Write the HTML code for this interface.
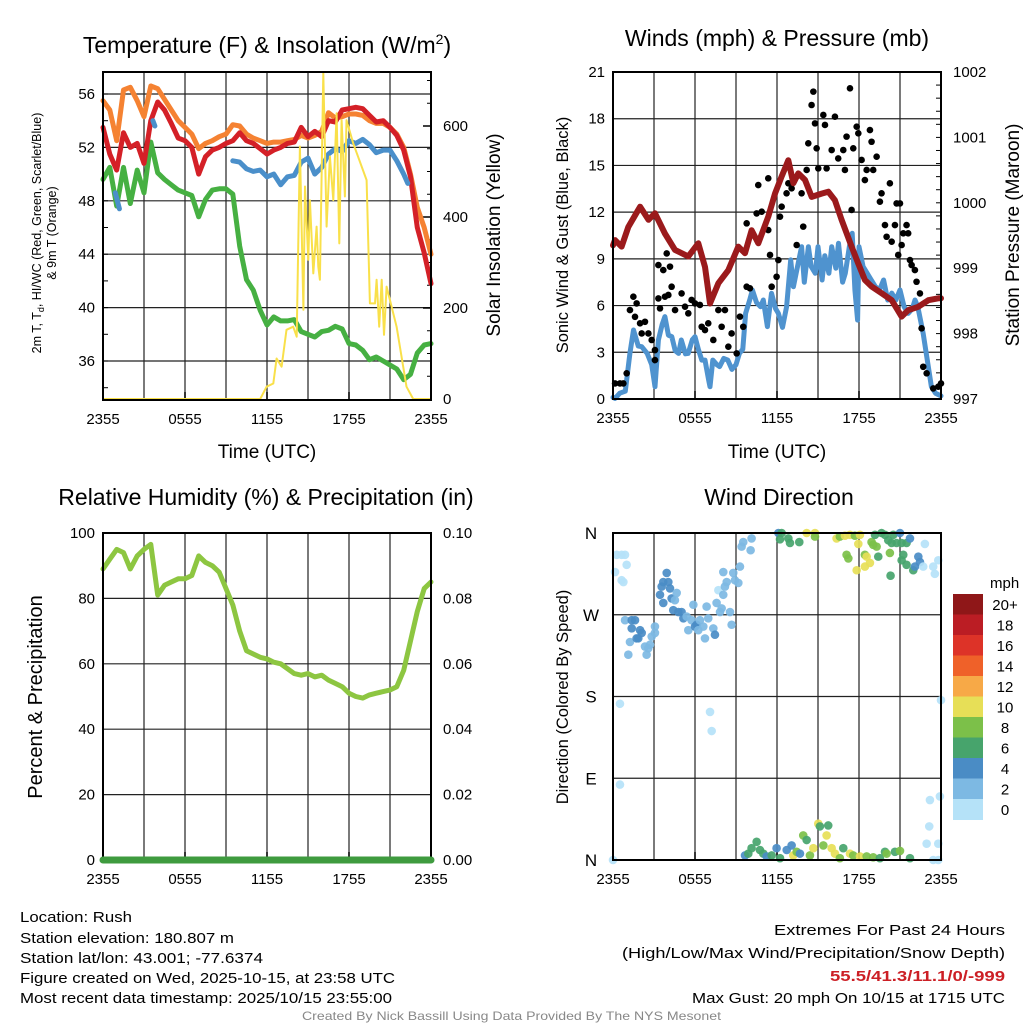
<!DOCTYPE html>
<html><head><meta charset="utf-8">
<style>
html,body{margin:0;padding:0;background:#fff;}
svg{display:block;font-family:"Liberation Sans",Arial,sans-serif;}
</style></head>
<body>
<svg id="chart" width="1024" height="1024" viewBox="0 0 1024 1024" xmlns="http://www.w3.org/2000/svg">
<rect x="0" y="0" width="1024" height="1024" fill="#fff"/>
<g id="p1"></g>
<g id="p2"></g>
<g id="p3"></g>
<g id="p4"></g>
<g id="txt">
<text x="267" y="53" font-size="23" text-anchor="middle">Temperature (F) &amp; Insolation (W/m<tspan font-size="14" dy="-9">2</tspan><tspan dy="9">)</tspan></text>
<text x="777" y="46" font-size="23" text-anchor="middle">Winds (mph) &amp; Pressure (mb)</text>
<text x="266" y="505" font-size="23" text-anchor="middle">Relative Humidity (%) &amp; Precipitation (in)</text>
<text x="779" y="505" font-size="23" text-anchor="middle">Wind Direction</text>
<text x="267" y="458" font-size="19" text-anchor="middle">Time (UTC)</text>
<text x="777" y="458" font-size="19" text-anchor="middle">Time (UTC)</text>
<text transform="translate(41,233) rotate(-90)" font-size="12.5" text-anchor="middle">2m T, T<tspan font-size="9" dy="3">d</tspan><tspan dy="-3">, HI/WC (Red, Green, Scarlet/Blue)</tspan></text>
<text transform="translate(56,233) rotate(-90)" font-size="12.5" text-anchor="middle">&amp; 9m T (Orange)</text>
<text transform="translate(500,235) rotate(-90)" font-size="19" text-anchor="middle">Solar Insolation (Yellow)</text>
<text transform="translate(568,235) rotate(-90)" font-size="16.5" text-anchor="middle">Sonic Wind &amp; Gust (Blue, Black)</text>
<text transform="translate(1019,235) rotate(-90)" font-size="19" text-anchor="middle">Station Pressure (Maroon)</text>
<text transform="translate(42,697) rotate(-90)" font-size="20" text-anchor="middle">Percent &amp; Precipitation</text>
<text transform="translate(568,697) rotate(-90)" font-size="16.5" text-anchor="middle">Direction (Colored By Speed)</text>
<text x="990" y="588" font-size="15">mph</text>
<g font-size="15">
<text x="20" y="922" textLength="112" lengthAdjust="spacingAndGlyphs">Location: Rush</text>
<text x="20" y="943" textLength="214" lengthAdjust="spacingAndGlyphs">Station elevation: 180.807 m</text>
<text x="20" y="963" textLength="243" lengthAdjust="spacingAndGlyphs">Station lat/lon: 43.001; -77.6374</text>
<text x="20" y="983" textLength="375" lengthAdjust="spacingAndGlyphs">Figure created on Wed, 2025-10-15, at 23:58 UTC</text>
<text x="20" y="1003" textLength="372" lengthAdjust="spacingAndGlyphs">Most recent data timestamp: 2025/10/15 23:55:00</text>
<text x="774" y="935" textLength="231" lengthAdjust="spacingAndGlyphs">Extremes For Past 24 Hours</text>
<text x="622" y="958" textLength="383" lengthAdjust="spacingAndGlyphs">(High/Low/Max Wind/Precipitation/Snow Depth)</text>
<text x="830" y="981" font-weight="bold" fill="#cc1f25" textLength="175" lengthAdjust="spacingAndGlyphs">55.5/41.3/11.1/0/-999</text>
<text x="692" y="1003" textLength="313" lengthAdjust="spacingAndGlyphs">Max Gust: 20 mph On 10/15 at 1715 UTC</text>
</g>
<text x="302" y="1020" font-size="12" fill="#888" textLength="419" lengthAdjust="spacingAndGlyphs">Created By Nick Bassill Using Data Provided By The NYS Mesonet</text>
</g>
</svg>
<script>
// ---------- data ----------
const xTickLabels = ["2355","0555","1155","1755","2355"];
const halfHours = [0,0.5,1,1.5,2,2.5,3,3.5,4,4.5,5,5.5,6,6.5,7,7.5,8,8.5,9,9.5,10,10.5,11,11.5,12,12.5,13,13.5,14,14.5,15,15.5,16,16.5,17,17.5,18,18.5,19,19.5,20,20.5,21,21.5,22,22.5,23,23.5,24];
const tempRed = [53.5,51.5,50.3,53.1,52,52.3,50.8,54,55.4,54.8,53.8,52.7,52.5,52,50,51.3,51.8,52,52.3,52.5,53.1,52.5,52.3,51.9,51.5,51.8,52,52.3,52.4,53.5,52.8,53.2,52.8,54,53.9,54.8,54.9,55,54.9,54.4,53.9,54,53.5,52.9,51.8,49.8,46,44.1,41.8];
const temp9m = [55.5,54.8,52.5,56.3,56.5,55.5,54.3,56.6,56.4,55.6,54.8,54,53.5,53,51.9,52.3,52.5,52.8,53,53.7,53.6,53,52.7,52.5,52.3,52.4,52.4,52.5,52.6,52.9,52.7,52.9,53.2,54.6,54.2,54.3,54.5,54.5,54.4,54,53.8,53.8,53.5,53,52,50,47.5,46,44];
const dewpoint = [49.6,50.5,47.6,50.5,47.8,50.3,48.6,52.4,50.1,49.6,49.2,48.8,48.6,48.4,46.8,48.1,48.8,48.9,48.9,48.5,44.6,42.1,41.3,39.8,38.7,39.3,39.0,39.0,39.1,38.2,38.0,37.8,38.2,38.3,38.6,38.4,37.3,37.2,36.8,36.1,36.3,36.0,35.7,35.4,34.6,35.0,36.6,37.2,37.3];
const hiwcHours = [0.9,1.2,null,3.65,3.8,null,9.5,10,10.5,11,11.5,12,12.5,13,13.5,14,14.5,15,15.5,16,16.5,17,17.5,18,18.5,19,19.5,20,20.5,21,21.5,22,22.3];
const hiwcVals  = [48.6,47.4,null,54.0,53.6,null,51.0,50.9,50.4,50.2,50.3,49.8,50,49.2,49.8,49.9,50.9,51.2,50,50.5,51.5,51.9,51.7,52.5,52.3,52.6,52.2,51.6,51.8,51.8,51,50,49.3];
const solarHours = [0,11.5,11.97,12.46,12.7,13.07,13.43,13.92,14.17,14.41,14.66,14.78,15.02,15.14,15.39,15.63,15.75,15.87,16.12,16.36,16.6,16.85,17.09,17.29,17.46,17.7,17.82,18.31,19.29,19.53,19.9,20.02,20.21,20.39,20.56,20.75,21.48,22.21,22.7,24];
const solarVals = [0,0,27,34,89,71,152,159,137,555,196,467,306,437,276,379,291,262,716,379,533,437,628,342,613,445,613,562,481,210,210,262,159,262,141,247,159,27,0,0];
const tempTicks = [36,40,44,48,52,56];
const solarTicks = [0,200,400,600];

const windHours = [0,0.15,0.5,0.9,1.24,1.5,1.85,2.1,2.5,2.83,3.07,3.32,3.6,3.8,4.05,4.3,4.55,4.8,5.0,5.3,5.5,5.8,6.0,6.24,6.5,6.73,7.0,7.1,7.3,7.6,7.8,8.1,8.4,8.7,9.0,9.25,9.5,9.7,10.0,10.2,10.5,10.8,11.0,11.3,11.6,11.9,12.1,12.4,12.7,13.0,13.2,13.5,13.8,14.0,14.3,14.5,14.8,15.0,15.3,15.5,15.8,16.0,16.3,16.5,16.8,17.0,17.3,17.5,17.7,17.9,18.0,18.3,18.6,18.9,19.2,19.5,19.8,20.1,20.4,20.7,21.0,21.3,21.6,21.9,22.1,22.3,22.5,22.7,23.0,23.3,23.6,24];
const windVals  = [0.1,0.04,0.37,0.5,2.93,4.43,3.4,3.36,2.93,2.2,0.79,3.79,4.8,5.29,4.1,4.0,3.1,2.93,3.79,2.9,2.93,3.8,4.0,3.2,2.5,2.5,1.2,0.79,2.5,2.2,2.08,2.6,2.5,1.9,2.2,2.93,3.2,5.5,6.36,7.0,6.2,5.93,6.36,4.65,6.79,5.8,5.5,4.6,5.93,8.93,7.21,8.5,9.78,7.5,9.78,8.5,8.07,9.78,7.64,9.2,8.07,9.78,8.4,10.0,7.5,8.07,9.8,10.64,7.0,5.07,9.78,8.5,8.07,7.64,7.21,7.0,7.64,6.36,6.8,6.36,7.0,5.93,5.5,5.8,6.36,5.93,5.07,4.2,2.5,0.79,0.37,0.2,0.3];
const gustHours = [0.15,0.51,0.76,1.0,1.24,1.49,1.73,1.61,1.98,2.1,2.34,2.59,2.83,3.07,3.07,3.32,3.68,3.93,4.17,4.29,3.32,3.8,4.05,3.44,4.54,5.02,5.27,5.51,5.75,6.0,6.36,6.49,6.73,6.97,7.34,7.71,7.95,8.19,8.44,8.68,9.05,9.29,9.53,9.78,10.02,9.78,10.51,10.63,10.88,11.36,11.36,11.49,11.61,11.97,12.1,12.22,12.34,12.7,12.83,13.07,13.44,13.8,13.92,14.17,14.29,14.53,14.66,14.78,14.9,15.02,15.39,15.51,15.63,16.0,16.24,16.48,16.85,16.97,17.09,17.34,17.46,17.58,17.83,17.95,18.19,18.43,18.56,18.8,18.92,19.04,19.29,19.53,19.65,19.9,20.02,20.26,20.39,20.63,20.75,20.87,21.0,21.12,21.24,21.48,21.6,21.73,21.85,22.09,22.21,22.46,22.58,22.7,22.95,23.43,23.8,24];
const gustVals  = [1.0,1.0,1.0,1.65,5.71,6.57,6.14,5.28,4.86,4.21,4.96,4.21,3.79,2.5,3.14,8.6,8.28,9.35,8.5,7.21,6.46,6.57,6.68,5.82,5.71,6.78,5.93,5.5,6.36,6.14,6.04,4.64,4.43,4.86,3.79,5.71,4.64,5.71,3.36,4.21,2.93,5.29,4.64,7.21,7.11,11.28,11.92,13.74,12.03,14.17,10.85,9.25,7.21,7.85,8.92,11.71,12.35,13.21,13.85,13.53,9.89,13.21,11.07,14.71,16.42,18.88,19.74,17.7,16.1,14.81,18.24,17.6,14.81,15.99,18.13,15.45,15.99,14.71,16.85,19.95,12.14,16.1,17.49,17.06,15.35,14.06,14.71,17.27,16.52,14.71,15.56,12.67,13.21,11.17,10.42,13.85,10.1,11.17,12.56,9.25,12.56,9.89,10.64,11.17,10.64,8.92,8.6,8.28,7.53,6.78,4.54,2.07,1.65,0.68,0.79,1.0];
const presHours = [0,0.15,0.63,1.12,1.98,2.6,3.07,3.8,4.54,5.51,6.24,6.73,7.1,7.71,8.44,9.17,9.66,10.14,10.63,11.36,11.85,12.34,12.83,13.2,13.56,14.05,14.54,15.26,15.75,16.24,16.73,17.46,17.95,18.43,18.92,19.65,20.39,21.12,21.61,22.34,23.07,23.8,24];
const presVals  = [999.35,999.43,999.33,999.63,999.94,999.74,999.84,999.53,999.28,999.18,999.38,999.02,998.46,998.77,998.97,999.33,999.23,999.58,999.38,999.79,1000.14,1000.4,1000.65,1000.3,1000.45,1000.35,1000.09,1000.14,1000.17,1000.04,999.74,999.33,999.07,998.82,998.72,998.62,998.51,998.26,998.36,998.41,998.51,998.54,998.54];
const windTicks = [0,3,6,9,12,15,18,21];
const presTicks = [997,998,999,1000,1001,1002];

const rhVals = [89,92,95,94,89,93,95,96.5,81,84,85,86,86,87,93,91,90,88,83,78,70,64,63,62,61.5,60.5,60,58.5,57,56.5,57,56,56.5,55,54,53,51,50,49.5,50.5,51,51.5,52,53,58,67,76,83,85];
const precipVals = [0,0,0,0,0,0,0,0,0,0,0,0,0,0,0,0,0,0,0,0,0,0,0,0,0,0,0,0,0,0,0,0,0,0,0,0,0,0,0,0,0,0,0,0,0,0,0,0,0];
const rhTicks = [0,20,40,60,80,100];
const precipTicks = ["0.00","0.02","0.04","0.06","0.08","0.10"];

const dirHours = [0.27,0.63,0.88,0.15,0.63,0.76,1.0,0.51,0.51,0.0,0.88,1.37,1.61,1.37,1.24,1.85,1.98,2.1,1.73,1.12,2.34,2.58,2.46,2.71,2.83,3.07,3.07,3.44,3.56,3.68,3.93,4.05,4.17,3.68,4.29,4.53,4.66,4.41,4.78,5.02,5.15,5.39,5.51,5.75,5.88,6.0,6.12,6.24,6.36,6.61,6.85,6.97,6.73,7.34,7.46,7.58,7.71,8.07,7.95,7.83,8.19,8.32,8.56,8.68,8.8,8.07,8.92,9.17,9.29,9.41,9.53,10.14,10.07,7.1,7.22,
12.1,12.34,12.22,12.83,12.95,13.63,14.17,14.78,14.78,16.36,16.6,16.97,17.34,17.7,18.07,17.95,17.09,17.22,17.83,18.43,18.56,18.8,18.43,18.92,19.04,19.29,19.41,19.17,19.65,19.9,20.14,20.39,20.51,20.75,21.0,21.12,21.48,21.73,20.26,20.31,21.24,21.12,21.48,21.97,22.09,22.34,22.46,22.82,22.7,23.43,23.55,23.8,
9.66,9.9,10.14,10.51,10.75,11.0,11.24,11.61,11.97,12.22,12.71,13.07,13.19,13.44,13.68,13.92,14.17,14.41,14.66,15.02,15.14,15.39,15.63,15.75,16.0,16.24,16.6,16.85,17.34,17.58,18.07,18.56,19.04,19.53,19.9,20.02,20.63,21.0,21.73,22.95,23.19,23.14,23.92,23.8,23.43,23.8,24.0];
const dirVals = [336,336,336,317,308,306,325,172,83,0,264,264,264,255,240,244,253,250,244,226,235,233,226,237,246,250,257,292,301,306,316,306,299,283,288,286,294,275,273,273,266,268,253,264,281,257,259,253,264,257,279,266,244,255,248,283,297,292,277,273,301,306,273,259,316,317,308,305,323,345,350,354,341,163,142,
360,360,353,354,349,350,360,360,356,354,356,357,358,357,358,348,336,332,319,336,334,327,323,350,347,345,334,358,360,358,352,349,358,349,360,349,349,354,338,313,336,330,325,319,323,334,328,348,323,323,315,330,
5,7,13,20,11,7,4,5,13,2,11,16,5,9,7,27,22,5,13,40,37,16,27,38,13,7,2,13,7,5,4,4,3,2,9,7,9,10,2,18,66,37,70,18,0,0,176];
const dirSpeeds = [0,0,0,0,0,0,0,0,0,0,2,4,4,4,2,4,4,4,4,2,2,2,2,2,2,2,2,4,4,4,4,4,4,4,4,2,2,4,4,4,4,2,2,2,2,4,4,2,2,2,2,2,2,2,4,2,0,2,2,2,2,2,2,2,2,2,2,2,2,2,2,2,2,0,0,
4,6,6,6,6,6,10,10,8,10,8,10,10,8,10,10,8,8,10,8,10,10,10,8,8,8,6,6,6,6,6,6,6,6,4,6,6,4,8,6,6,6,6,6,4,4,4,0,0,0,0,0,
4,6,6,6,6,6,4,6,4,6,4,4,10,8,4,8,6,8,10,10,6,8,10,6,10,10,8,6,10,8,10,8,8,6,6,8,6,8,6,0,0,0,0,0,0,0,0];
const dirTickLabels = ["N","E","S","W","N"];
const speedBins = ["0","2","4","6","8","10","12","14","16","18","20+"];
const speedColors = ["#b5e2f8","#7db9e3","#4a8cc5","#47a46c","#7cc049","#e7df57","#f7a947","#ef6129","#dd3328","#bb1d24","#8f1718"];

// ---------- helpers ----------
const NS = "http://www.w3.org/2000/svg";
function mk(parent, tag, attrs){ const e=document.createElementNS(NS,tag); for(const k in attrs) e.setAttribute(k,attrs[k]); parent.appendChild(e); return e; }
function txt(parent, x, y, s, size, anchor){ const t=mk(parent,"text",{x:x,y:y,"font-size":size,"text-anchor":anchor}); t.textContent=s; return t; }

function frame(g, L, T, R, B, hLinesY, name){
  for(let i=1;i<8;i++){
    const x=L+(R-L)*i/8;
    const ln=mk(g,"line",{x1:x,y1:T,x2:x,y2:B,stroke:"#222","stroke-width":1.2});
    
    
  }
  hLinesY.forEach(y=>{
    const ln=mk(g,"line",{x1:L,y1:y,x2:R,y2:y,stroke:"#222","stroke-width":1.2});
    
    
  });
  xTickLabels.forEach((s,i)=>{
    const x=L+(R-L)*i/4;
    const t=txt(g,x,B+24,s,15,"middle");
    
    
    mk(g,"line",{x1:x,y1:B,x2:x,y2:B-8,stroke:"#000","stroke-width":1.5});
  });
}
function box(g,L,T,R,B){
  const r=mk(g,"rect",{x:L,y:T,width:R-L,height:B-T,fill:"none",stroke:"#000","stroke-width":2});
  
  
}
function line(g, xs, ys, xf, yf, color, w, name){
  let d="", pen=false;
  for(let i=0;i<xs.length;i++){
    if(xs[i]===null||ys[i]===null){pen=false;continue;}
    d+=(pen?"L":"M")+xf(xs[i]).toFixed(1)+","+yf(ys[i]).toFixed(1);
    pen=true;
  }
  const p=mk(g,"path",{d:d,fill:"none",stroke:color,"stroke-width":w,"stroke-linejoin":"round","stroke-linecap":"round"});
  
  
  return p;
}

// ---------- panel 1 ----------
(function(){
  const g=document.getElementById("p1");
  const L=103,R=431,T=72,B=400;
  const x=h=>L+(R-L)*h/24;
  const yT=t=>94+(56-t)*13.35;
  const yS=s=>399-s*91/200;
  frame(g,L,T,R,B,tempTicks.map(yT),"temp");
  tempTicks.forEach(t=>{
    const e=txt(g,L-8,yT(t)+5,String(t),15,"end");
    
    
  });
  for(let t=34;t<=57;t+=2){ mk(g,"line",{x1:L,y1:yT(t),x2:L+5,y2:yT(t),stroke:"#000"}); }
  solarTicks.forEach(s=>{
    const e=txt(g,R+12,yS(s)+5,String(s),15,"start");
    
    
    mk(g,"line",{x1:R,y1:yS(s),x2:R-8,y2:yS(s),stroke:"#000","stroke-width":1.5});
  });
  for(let s=50;s<=700;s+=50){ mk(g,"line",{x1:R,y1:yS(s),x2:R-4,y2:yS(s),stroke:"#000"}); }
  line(g,halfHours,dewpoint,x,yT,"#46b042",5,"dewpoint-line");
  line(g,halfHours,temp9m,x,yT,"#f58232",5,"temp-9m-line");
  line(g,halfHours,tempRed,x,yT,"#d42027",5,"temp-2m-line");
  line(g,hiwcHours,hiwcVals,x,yT,"#4a8fca",5,"heat-index-line");
  line(g,solarHours,solarVals,x,yS,"#f9e04a",2,"solar-line");
  box(g,L,T,R,B);
})();

// ---------- panel 2 ----------
(function(){
  const g=document.getElementById("p2");
  const L=613,R=941,T=72,B=399;
  const x=h=>L+(R-L)*h/24;
  const yW=v=>B-v*(B-T)/21;
  const yP=p=>B-(p-997)*(B-T)/5;
  frame(g,L,T,R,B,windTicks.map(yW),"wind");
  windTicks.forEach(v=>{
    const e=txt(g,L-8,yW(v)+5,String(v),15,"end");
    
    
  });
  presTicks.forEach(p=>{
    const e=txt(g,R+12,yP(p)+5,String(p),15,"start");
    
    
  });
  for(let p=997;p<=1002;p+=0.2){ mk(g,"line",{x1:R,y1:yP(p),x2:R-5,y2:yP(p),stroke:"#000"}); }
  line(g,windHours,windVals,x,yW,"#4f93cf",5,"sonic-wind-line");
  for(let i=0;i<gustHours.length;i++){
    const c=mk(g,"circle",{cx:x(gustHours[i]),cy:yW(gustVals[i]),r:3.3,fill:"#000"});
    
    
  }
  line(g,presHours,presVals,x,yP,"#9b1a1c",6,"pressure-line");
  box(g,L,T,R,B);
})();

// ---------- panel 3 ----------
(function(){
  const g=document.getElementById("p3");
  const L=103,R=431,T=533,B=860;
  const x=h=>L+(R-L)*h/24;
  const yR=v=>B-v*(B-T)/100;
  const yPr=v=>B-v*(B-T)/0.1;
  frame(g,L,T,R,B,rhTicks.map(yR),"rh");
  rhTicks.forEach(v=>{
    const e=txt(g,L-8,yR(v)+5,String(v),15,"end");
    
    
  });
  precipTicks.forEach(s=>{
    const e=txt(g,R+12,yPr(parseFloat(s))+5,s,15,"start");
    
    
  });
  line(g,halfHours,rhVals,x,yR,"#8dc641",5,"rh-line");
  box(g,L,T,R,B);
  line(g,halfHours,precipVals,x,yPr,"#3f9b3f",7,"precip-line");
})();

// ---------- panel 4 ----------
(function(){
  const g=document.getElementById("p4");
  const L=613,R=941,T=533,B=860;
  const x=h=>L+(R-L)*h/24;
  const yD=d=>B-d*(B-T)/360;
  frame(g,L,T,R,B,[0,90,180,270,360].map(yD),"dir");
  dirTickLabels.forEach((s,i)=>{
    const e=txt(g,L-22,yD(i*90)+6,s,17,"middle");
    
    
  });
  for(let i=0;i<dirHours.length;i++){
    const bin=Math.min(10,Math.floor(dirSpeeds[i]/2));
    const c=mk(g,"circle",{cx:x(dirHours[i]),cy:yD(dirVals[i]),r:4.3,fill:speedColors[bin],"fill-opacity":0.92});
    
    
  }
  box(g,L,T,R,B);
  const cbT=594,cbH=20.5;
  for(let i=0;i<speedColors.length;i++){
    const k=speedColors.length-1-i;
    const r=mk(g,"rect",{x:953,y:cbT+i*cbH,width:30,height:cbH+0.5,fill:speedColors[k]});
    
    
    const e=txt(g,1005,cbT+i*cbH+16,speedBins[k],15,"middle");
    
    
  }
})();
</script>
</body></html>
